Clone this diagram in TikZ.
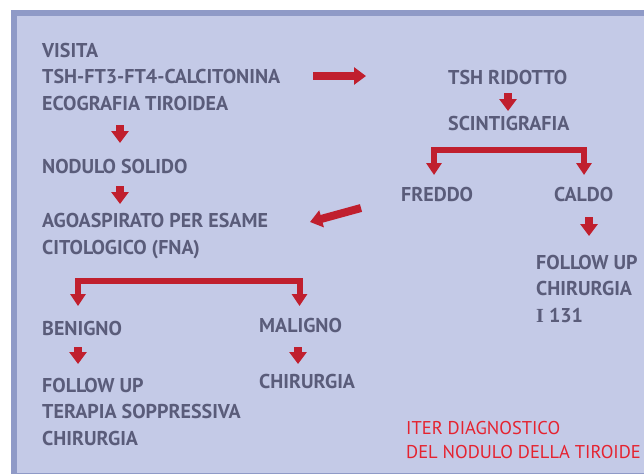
\documentclass[tikz,border=0pt]{standalone}
\usepackage{fontspec}
\setmainfont{PT Sans}
\newfontfamily\serifI{Liberation Serif}
\usepackage{tikz}
\usetikzlibrary{arrows.meta}

\definecolor{pagebg}{RGB}{196,202,231}
\definecolor{frameblue}{RGB}{143,154,199}
\definecolor{textgray}{RGB}{90,92,122}
\definecolor{arrowred}{RGB}{192,31,46}
\definecolor{captionred}{RGB}{229,35,48}

\begin{document}
\begin{tikzpicture}[x=1pt,y=-1pt]
    \tikzstyle{step text}=[anchor=base west, inner sep=0pt, align=left,
            text=textgray, font=\fontsize{20}{26.5}\selectfont\bfseries]
    \tikzstyle{caption}=[anchor=base west, inner sep=0pt, align=left,
            text=captionred, font=\fontsize{18.5}{24}\selectfont]
    \tikzstyle{flow}=[arrowred, line width=8pt,
            -{Triangle[width=17pt,length=12pt]}]
    \tikzstyle{fork}=[arrowred, line width=6pt, line join=miter,
            {Triangle[width=15pt,length=12pt]}-{Triangle[width=15pt,length=12pt]}]

    \useasboundingbox (0,0) rectangle (644,475);
    \fill[white] (0,0) rectangle (644,475);
    \fill[frameblue] (11,9.5) rectangle (644,474);
    \fill[pagebg] (17,16) rectangle (644,472.5);

        % left column (base = last line)
        \node[step text] (visita) at (42,110)
        {VISITA\\TSH-FT3-FT4-CALCITONINA\\ECOGRAFIA TIROIDEA};
        \node[step text] (nodulo) at (42,173) {NODULO SOLIDO};
        \node[step text] (fna) at (42,254)
        {AGOASPIRATO PER ESAME\\CITOLOGICO (FNA)};
        \node[step text] (benigno) at (42,335) {BENIGNO};
        \node[step text] (maligno) at (259,332) {MALIGNO};
        \node[step text] (terapia) at (42,445)
        {FOLLOW UP\\TERAPIA SOPPRESSIVA\\CHIRURGIA};
        \node[step text] (chir) at (259,388) {CHIRURGIA};

        % right column
        \node[step text] (tsh) at (448,84) {TSH RIDOTTO};
        \node[step text] (scinti) at (448,130) {SCINTIGRAFIA};
        \node[step text] (freddo) at (401,201) {FREDDO};
        \node[step text] (caldo) at (554,201) {CALDO};
        \node[step text] (caldoend) at (536,322)
        {FOLLOW UP\\CHIRURGIA\\{\serifI I} 131};

        \node[caption] (titolo) at (406,458)
        {ITER DIAGNOSTICO\\DEL NODULO DELLA TIROIDE};

        % arrow end points
        \coordinate (v1) at (120,125);  \coordinate (v2) at (120,143);
        \coordinate (n1) at (120,186);  \coordinate (n2) at (120,204);
        \coordinate (t1) at (508,93);   \coordinate (t2) at (508,111);
        \coordinate (c1) at (589,217);  \coordinate (c2) at (589,236);
        \coordinate (b1) at (78,347);   \coordinate (b2) at (78,364);
        \coordinate (m1) at (298,347);  \coordinate (m2) at (298,364);
        \coordinate (h1) at (313,76);   \coordinate (h2) at (366,76);
        \coordinate (f1) at (361,208);  \coordinate (f2) at (310,222);

        \foreach \a/\b in {v1/v2, n1/n2, t1/t2, c1/c2, b1/b2, m1/m2,
                h1/h2, f1/f2}
        {
            \draw[flow] (\a) -- (\b);
        }

        % forks
        \draw[fork] (434,175) -- (434,150) -- (584,150) -- (584,175);
        \draw[fork] (78,306) -- (78,280.5) -- (299.5,280.5) -- (299.5,306);

    \end{tikzpicture}
\end{document}
